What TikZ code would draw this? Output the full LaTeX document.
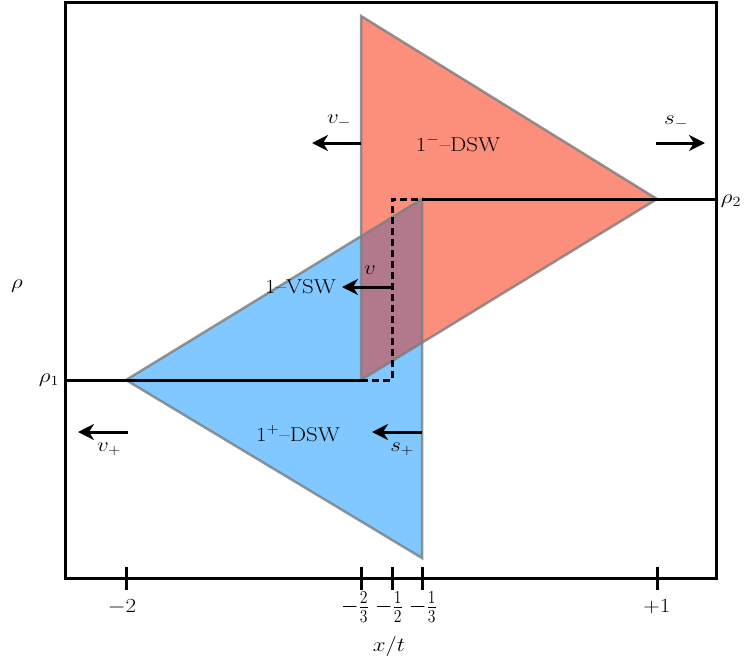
\RequirePackage{fix-cm}
\documentclass[tikz,border=0pt]{standalone}
\usetikzlibrary{arrows.meta}
\definecolor{redfill}{RGB}{252,143,124}
\definecolor{bluefill}{RGB}{128,200,255}
\definecolor{mixfill}{RGB}{178,120,140}
\definecolor{edgegray}{RGB}{125,125,125}
\newcommand\hstretch[1]{\scalebox{1.15}[1]{#1}}
\newcommand\fracstretch[1]{\scalebox{1.12}[1.3]{#1}}
\begin{document}
\begin{tikzpicture}[x=1pt,y=-1pt,
  every node/.style={font=\fontsize{20}{24}\selectfont, inner sep=0pt},
  frameline/.style={line width=3pt},
  levelline/.style={line width=3pt},
  tickline/.style={line width=3pt},
  speed/.style={line width=3pt,-{Stealth[length=16pt,width=16pt,inset=5pt]}},
  waveedge/.style={draw=edgegray,line width=2.5pt,line join=miter,opacity=0.8},
  dashbox/.style={line width=3pt,dash pattern=on 7pt off 4pt}]
\useasboundingbox (0,0) rectangle (744,662);
% triangle corners
\coordinate (R1) at (361,16);
\coordinate (R2) at (657,199);
\coordinate (R3) at (361,380);
\coordinate (B1) at (126,380);
\coordinate (B2) at (422,199);
\coordinate (B3) at (422,558);
\coordinate (O1) at (361,236.5);
\coordinate (O3) at (422,343);
\coordinate (D1) at (392,380);
\coordinate (D2) at (392,199);
% fills
\fill[redfill] (R1) -- (R2) -- (R3) -- cycle;
\fill[bluefill] (B1) -- (B2) -- (B3) -- cycle;
\fill[mixfill] (O1) -- (B2) -- (O3) -- (R3) -- cycle;
% edges
\draw[waveedge] (R1) -- (R2) -- (R3) -- cycle;
\draw[waveedge] (B1) -- (B2) -- (B3) -- cycle;
% frame
\coordinate (F1) at (65,2);
\coordinate (F2) at (716,578);
\draw[frameline] (F1) rectangle (F2);
% levels
\coordinate (L1) at (65,380);
\coordinate (L2) at (716,199);
\draw[levelline] (L1) -- (R3);
\draw[levelline] (B2) -- (L2);
% dashed box
\draw[dashbox] (R3) -- (D1) -- (D2) -- (B2);
% ticks
\foreach \n/\xx in {a/126,b/361,c/392,d/422,e/657}{
  \coordinate (T\n1) at (\xx,567);
  \coordinate (T\n2) at (\xx,590);
  \draw[tickline] (T\n1) -- (T\n2);
}
\node (lm2) at (122,607) {\hstretch{$-2$}};
\node (lm23) at (355,607) {\fracstretch{$-\frac{2}{3}$}};
\node (lm12) at (389,607) {\fracstretch{$-\frac{1}{2}$}};
\node (lm13) at (423,607) {\fracstretch{$-\frac{1}{3}$}};
\node (lp1) at (657,607) {\hstretch{$+1$}};
\node (xt) at (389,646) {\hstretch{$x/t$}};
% rho labels
\node (rho) at (17,286) {\hstretch{$\rho$}};
\node (rho1) at (49,380) {\hstretch{$\rho_1$}};
\node (rho2) at (731,201) {\hstretch{$\rho_2$}};
% wave labels
\node[anchor=base] (dswm) at (458,151) {\hstretch{$1^-$--DSW}};
\node[anchor=base] (dswp) at (298,441) {\hstretch{$1^+$--DSW}};
\node[anchor=base east] (vsw) at (336,293) {\hstretch{1--VSW}};
% speed arrows
\coordinate (vm0) at (361,143); \coordinate (vm1) at (312,143);
\coordinate (sm0) at (656,143); \coordinate (sm1) at (705,143);
\coordinate (v0) at (392,287);  \coordinate (v1) at (342,287);
\coordinate (vp0) at (128,432); \coordinate (vp1) at (78,432);
\coordinate (sp0) at (422,432); \coordinate (sp1) at (372,432);
\draw[speed] (vm0) -- (vm1);
\draw[speed] (sm0) -- (sm1);
\draw[speed] (v0) -- (v1);
\draw[speed] (vp0) -- (vp1);
\draw[speed] (sp0) -- (sp1);
\node (lvm) at (339,121) {\hstretch{$v_-$}};
\node (lsm) at (676,122) {\hstretch{$s_-$}};
\node (lv) at (370,270) {\hstretch{$v$}};
\node (lvp) at (109,449) {\hstretch{$v_+$}};
\node (lsp) at (402,449) {\hstretch{$s_+$}};
\end{tikzpicture}
\end{document}
